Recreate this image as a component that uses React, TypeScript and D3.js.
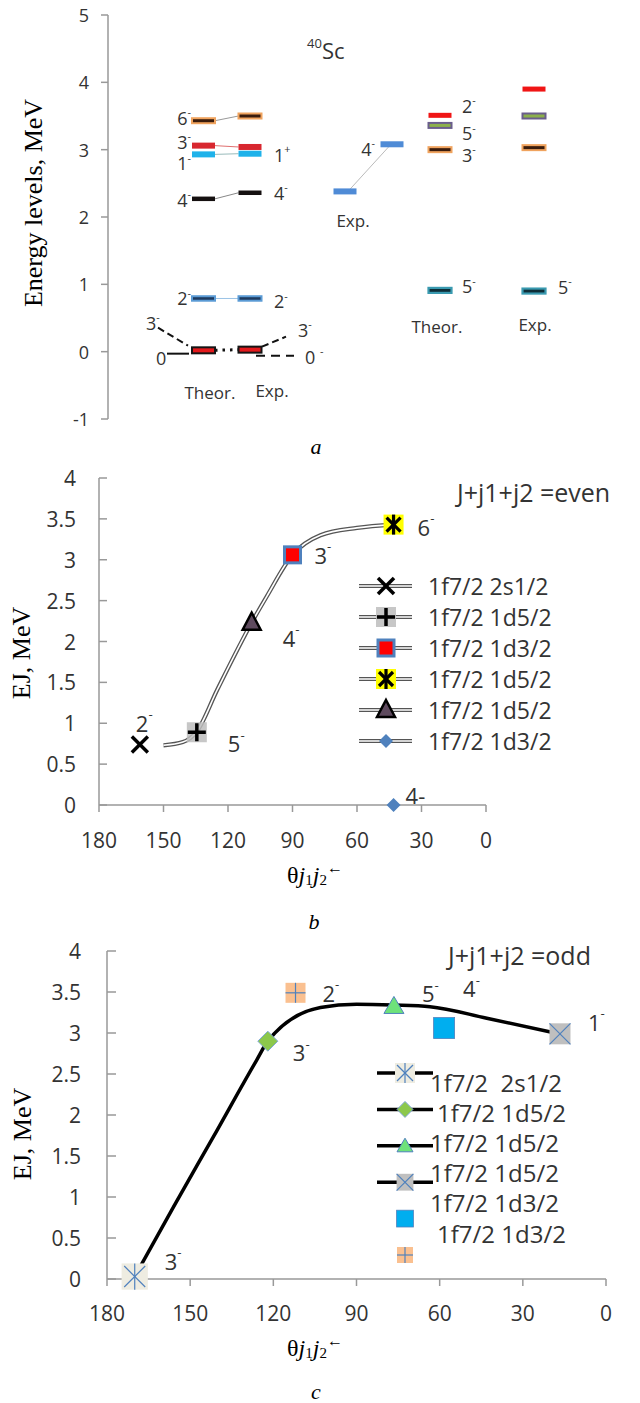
import React from 'react';
import * as d3 from 'd3';

// ---------------- Panel a data (energy levels, MeV) ----------------
const aYTicks = [-1, 0, 1, 2, 3, 4, 5];
const pairSpinBase = ['6', '3', '1', '4', '2', '0'];
const pairTheor = [3.43, 3.06, 2.93, 2.27, 0.79, 0.02];
const pairExp = [3.5, 3.04, 2.94, 2.36, 0.79, 0.03];
const pairExpSpinBase = ['', '', '1', '4', '2', '0'];
const pairExpSpinSup = ['', '', '+', '-', '-', '-'];
const exp4Levels = [2.38, 3.08];
const rightSpinBase = ['2', '5', '3', '5'];
const rightTheor = [3.51, 3.36, 3.0, 0.91];
const rightExp = [3.9, 3.5, 3.03, 0.9];

// ---------------- Panel b data ----------------
const bcXTicks = [180, 150, 120, 90, 60, 30, 0];
const bcYTicks = [0, 0.5, 1, 1.5, 2, 2.5, 3, 3.5, 4];
const bSeries = ['1f7/2 2s1/2', '1f7/2 1d5/2', '1f7/2 1d3/2', '1f7/2 1d5/2', '1f7/2 1d5/2', '1f7/2 1d3/2'];
const bTheta = [161, 134.5, 90, 43, 109, 43];
const bE = [0.74, 0.89, 3.06, 3.43, 2.23, 0.0];
const bSpin = ['2', '5', '3', '6', '4', '4'];
const bCurveTheta = [150, 141, 134.5, 125, 109, 102, 90, 77, 60, 43];
const bCurveE = [0.73, 0.77, 0.9, 1.41, 2.23, 2.55, 3.06, 3.3, 3.39, 3.43];

// ---------------- Panel c data ----------------
const cSeries = ['1f7/2  2s1/2', '1f7/2 1d5/2', '1f7/2 1d5/2', '1f7/2 1d5/2', '1f7/2 1d3/2', '1f7/2 1d3/2'];
const cTheta = [170, 122, 76.5, 16.6, 58.4, 112];
const cE = [0.03, 2.9, 3.33, 2.99, 3.06, 3.49];
const cSpin = ['3', '3', '5', '1', '4', '2'];
const cCurveTheta = [170, 156, 141.7, 126, 122, 103, 90, 76.5, 63.5, 43, 17];
const cCurveE = [0.03, 0.88, 1.73, 2.67, 2.9, 3.31, 3.35, 3.34, 3.32, 3.18, 2.99];

// ---------------- layout / style ----------------
const SANS = "'Open Sans', 'Liberation Sans', sans-serif";
const SERIF = "'Liberation Serif', 'DejaVu Serif', serif";
const AXIS = '#999';
const TXT = '#333';

const barStyles: Record<string, { fill: string; stroke?: string; sw?: number; h: number }> = {
  orange: { fill: '#3a1c0c', stroke: '#f0a35e', sw: 2, h: 5 },
  red: { fill: '#d8272f', h: 6 },
  cyan: { fill: '#1fb2ea', h: 6 },
  black: { fill: '#151010', h: 4.5 },
  blue: { fill: '#1d3b60', stroke: '#5b9bd5', sw: 2, h: 4.5 },
  redBlack: { fill: '#e3191c', stroke: '#151515', sw: 2, h: 6 },
  expBlue: { fill: '#4f8bd6', h: 6 },
  brightRed: { fill: '#f01515', h: 5 },
  purpleGreen: { fill: '#8cb04b', stroke: '#6a5e8c', sw: 2, h: 5 },
  teal: { fill: '#0e2e38', stroke: '#3a9ab0', sw: 2.2, h: 5 },
};
const pairStyle = ['orange', 'red', 'cyan', 'black', 'blue', 'redBlack'];
const pairLink = ['#999', '#e07070', '#9bb', '#888', '#9bc3e6', '#111'];
const rightStyle = ['brightRed', 'purpleGreen', 'orange', 'teal'];
const col = { t1: 203.5, e1: 250, g1: 345, g2: 392, t2: 440, e2: 534 };
const BW = 23;

function Spin({ x, y, base, sup = '-', size = 18, anchor = 'start', color = TXT }: any) {
  return (
    <text x={x} y={y} fontFamily={SANS} fontSize={size} fill={color} textAnchor={anchor} dominantBaseline="central">
      {base}
      {sup ? (
        <tspan fontSize={size * 0.6} dy={-size * 0.38}>
          {sup}
        </tspan>
      ) : null}
    </text>
  );
}

function Bar({ cx, y, style }: any) {
  const s = barStyles[style];
  return (
    <rect x={cx - BW / 2} y={y - s.h / 2} width={BW} height={s.h} fill={s.fill} stroke={s.stroke || 'none'} strokeWidth={s.sw || 0} />
  );
}

function MarkerB({ type, x, y }: any) {
  const k = `${type}`;
  switch (k) {
    case '0':
      return (
        <g stroke="#000" strokeWidth={3.5}>
          <line x1={x - 8} y1={y - 8} x2={x + 8} y2={y + 8} />
          <line x1={x - 8} y1={y + 8} x2={x + 8} y2={y - 8} />
        </g>
      );
    case '1':
      return (
        <g>
          <rect x={x - 10} y={y - 10} width={20} height={20} fill="#bdbdbd" opacity={0.85} />
          <line x1={x - 9} y1={y} x2={x + 9} y2={y} stroke="#000" strokeWidth={3.5} />
          <line x1={x} y1={y - 9} x2={x} y2={y + 9} stroke="#000" strokeWidth={3.5} />
        </g>
      );
    case '2':
      return <rect x={x - 8} y={y - 8} width={16} height={16} fill="#ff0000" stroke="#4f81bd" strokeWidth={3} />;
    case '3':
      return (
        <g>
          <rect x={x - 10} y={y - 10} width={20} height={20} fill="#ffff00" />
          <g stroke="#000" strokeWidth={3.2}>
            <line x1={x - 7} y1={y - 7} x2={x + 7} y2={y + 7} />
            <line x1={x - 7} y1={y + 7} x2={x + 7} y2={y - 7} />
            <line x1={x} y1={y - 10} x2={x} y2={y + 10} />
          </g>
        </g>
      );
    case '4':
      return <path d={`M${x},${y - 10} L${x + 9},${y + 7} L${x - 9},${y + 7} Z`} fill="#5e4a5e" stroke="#000" strokeWidth={2.5} strokeLinejoin="miter" />;
    default:
      return <path d={`M${x},${y - 7} L${x + 7},${y} L${x},${y + 7} L${x - 7},${y} Z`} fill="#4f81bd" />;
  }
}

function MarkerC({ type, x, y, s = 1 }: any) {
  const k = `${type}`;
  const h = 10 * s;
  switch (k) {
    case '0':
      return (
        <g>
          <rect x={x - h * 1.25} y={y - h * 1.25} width={h * 2.5} height={h * 2.5} fill="#eeece1" />
          <g stroke="#4f81bd" strokeWidth={1.2}>
            <line x1={x - h} y1={y - h} x2={x + h} y2={y + h} />
            <line x1={x - h} y1={y + h} x2={x + h} y2={y - h} />
            <line x1={x} y1={y - h * 1.25} x2={x} y2={y + h * 1.25} />
          </g>
        </g>
      );
    case '1':
      return <path d={`M${x},${y - h} L${x + h},${y} L${x},${y + h} L${x - h},${y} Z`} fill="#8cc84b" stroke="#7fa7d8" strokeWidth={1} />;
    case '2':
      return <path d={`M${x},${y - h * 0.95} L${x + h},${y + h * 0.75} L${x - h},${y + h * 0.75} Z`} fill="#6ee27a" stroke="#4f81bd" strokeWidth={1} />;
    case '3':
      return (
        <g>
          <rect x={x - h * 1.05} y={y - h * 1.05} width={h * 2.1} height={h * 2.1} fill="#bfbfbf" />
          <g stroke="#4f81bd" strokeWidth={1.2}>
            <line x1={x - h * 1.05} y1={y - h * 1.05} x2={x + h * 1.05} y2={y + h * 1.05} />
            <line x1={x - h * 1.05} y1={y + h * 1.05} x2={x + h * 1.05} y2={y - h * 1.05} />
          </g>
        </g>
      );
    case '4':
      return <rect x={x - h * 1.05} y={y - h * 1.05} width={h * 2.1} height={h * 2.1} fill="#00aeef" stroke="#4f81bd" strokeWidth={0.8} />;
    default:
      return (
        <g>
          <rect x={x - h} y={y - h} width={h * 2} height={h * 2} fill="#fac090" />
          <line x1={x - h} y1={y} x2={x + h} y2={y} stroke="#4f81bd" strokeWidth={1.2} />
          <line x1={x} y1={y - h} x2={x} y2={y + h} stroke="#4f81bd" strokeWidth={1.2} />
        </g>
      );
  }
}

function Theta({ x, y }: any) {
  return (
    <text x={x} y={y} fontFamily={SERIF} fontSize={24} fill="#000" textAnchor="middle" dominantBaseline="central">
      θ<tspan fontStyle="italic">j</tspan>
      <tspan fontSize={15} dy={5}>1</tspan>
      <tspan fontStyle="italic" dy={-5}>j</tspan>
      <tspan fontSize={15} dy={5}>2</tspan>
      <tspan fontSize={16} dy={-13}>←</tspan>
    </text>
  );
}

export default function App() {
  const yA = d3.scaleLinear().domain([-1, 5]).range([419, 15]);
  const xB = d3.scaleLinear().domain([180, 0]).range([99, 486]);
  const yB = d3.scaleLinear().domain([0, 4]).range([805, 478]);
  const xC = d3.scaleLinear().domain([180, 0]).range([107, 606]);
  const yC = d3.scaleLinear().domain([0, 4]).range([1279, 951]);

  const lineB = d3.line<number>().x((d, i) => xB(bCurveTheta[i])).y((d) => yB(d)).curve(d3.curveMonotoneX);
  const lineC = d3.line<number>().x((d, i) => xC(cCurveTheta[i])).y((d) => yC(d)).curve(d3.curveMonotoneX);

  const bLabelDx = [-4, 31, 22, 24, 31, 12];
  const bLabelDy = [-22, 11, 0, 2, 15, -10];
  const cLabelDx = [30, 25, 28, 28, 19, 27];
  const cLabelDy = [-16, 11, -13, -12, -40, 0];
  const bLegY = (i: number) => 586 + i * 31;
  const cLegMarkY = (i: number) => 1073 + i * 36.4;
  const cLegTextY = (i: number) => 1082 + i * 30.2;
  const cLegTextX = [430, 437, 430, 430, 430, 437];

  const z = yA(0);

  return (
    <svg width={640} height={1403} viewBox="0 0 640 1403" style={{ position: 'absolute', left: 0, top: 0, background: '#fff' }}>
      <rect x={0} y={0} width={640} height={1403} fill="#fff" />

      {/* ================= Panel a ================= */}
      <line x1={108} x2={108} y1={yA(5)} y2={yA(-1)} stroke={AXIS} strokeWidth={1.5} />
      {aYTicks.map((t) => (
        <g key={'at' + t}>
          <line x1={101} x2={108} y1={yA(t)} y2={yA(t)} stroke={AXIS} strokeWidth={1.5} />
          <text x={89} y={yA(t)} fontFamily={SANS} fontSize={18} fill={TXT} textAnchor="end" dominantBaseline="central">
            {t}
          </text>
        </g>
      ))}
      <text transform={`translate(33,203) rotate(-90)`} fontFamily={SERIF} fontSize={26} textAnchor="middle" dominantBaseline="central" fill="#000">
        Energy levels, MeV
      </text>
      <text x={307} y={50} fontFamily={SANS} fill={TXT} dominantBaseline="central">
        <tspan fontSize={13} dy={-7}>40</tspan>
        <tspan fontSize={22} dy={7}>Sc</tspan>
      </text>

      {pairTheor.map((e, i) => (
        <line
          key={'pl' + i}
          x1={col.t1 + BW / 2}
          x2={col.e1 - BW / 2}
          y1={yA(e)}
          y2={yA(pairExp[i])}
          stroke={pairLink[i]}
          strokeWidth={i === 5 ? 3 : 1}
          strokeDasharray={i === 5 ? '2.5 5' : undefined}
        />
      ))}
      {pairTheor.map((e, i) => (
        <Bar key={'pt' + i} cx={col.t1} y={yA(e)} style={pairStyle[i]} />
      ))}
      {pairExp.map((e, i) => (
        <Bar key={'pe' + i} cx={col.e1} y={yA(e)} style={pairStyle[i]} />
      ))}
      {[0, 1, 2, 3, 4].map((i) => (
        <Spin key={'plt' + i} x={191} y={yA(pairTheor[i]) + [-3, -4, 9, 1, 0][i]} base={pairSpinBase[i]} anchor="end" />
      ))}
      {[2, 3, 4].map((i) => (
        <Spin key={'ple' + i} x={274} y={yA(pairExp[i]) + [0, 0, 1, 0, 3][i]} base={pairExpSpinBase[i]} sup={pairExpSpinSup[i]} />
      ))}
      <line x1={158} y1={z - 24} x2={188} y2={z - 6} stroke="#111" strokeWidth={2} strokeDasharray="7 4" />
      <line x1={167} y1={z + 2} x2={189} y2={z + 2} stroke="#111" strokeWidth={2} />
      <line x1={262} y1={z - 5} x2={286} y2={z - 15} stroke="#111" strokeWidth={2} strokeDasharray="7 4" />
      <line x1={256} y1={z + 4} x2={294} y2={z + 4} stroke="#111" strokeWidth={2} strokeDasharray="9 6" />
      <Spin x={146} y={z - 29} base="3" />
      <Spin x={156} y={z + 6} base="0" sup="" />
      <Spin x={298} y={z - 22} base="3" />
      <Spin x={305} y={z + 5} base="0 " />
      <text x={210} y={392} fontFamily={SANS} fontSize={17} fill={TXT} textAnchor="middle" dominantBaseline="central">
        Theor.
      </text>
      <text x={272} y={390} fontFamily={SANS} fontSize={17} fill={TXT} textAnchor="middle" dominantBaseline="central">
        Exp.
      </text>

      <line x1={col.g1 + 3} y1={yA(exp4Levels[0])} x2={col.g2 - 1} y2={yA(exp4Levels[1])} stroke="#bbb" strokeWidth={1} />
      <Bar cx={col.g1} y={yA(exp4Levels[0])} style="expBlue" />
      <Bar cx={col.g2} y={yA(exp4Levels[1])} style="expBlue" />
      <Spin x={375} y={yA(exp4Levels[1]) + 5} base="4" anchor="end" />
      <text x={353} y={220} fontFamily={SANS} fontSize={17} fill={TXT} textAnchor="middle" dominantBaseline="central">
        Exp.
      </text>

      {rightTheor.map((e, i) => (
        <Bar key={'rt' + i} cx={col.t2} y={yA(e)} style={rightStyle[i]} />
      ))}
      {rightExp.map((e, i) => (
        <Bar key={'re' + i} cx={col.e2} y={yA(e)} style={rightStyle[i]} />
      ))}
      {rightTheor.map((e, i) => (
        <Spin key={'rl' + i} x={462} y={yA(e) + [-9, 8, 5, -4][i]} base={rightSpinBase[i]} />
      ))}
      <Spin x={558} y={yA(rightExp[3]) - 4} base={rightSpinBase[3]} />
      <text x={437} y={326} fontFamily={SANS} fontSize={17} fill={TXT} textAnchor="middle" dominantBaseline="central">
        Theor.
      </text>
      <text x={535} y={324} fontFamily={SANS} fontSize={17} fill={TXT} textAnchor="middle" dominantBaseline="central">
        Exp.
      </text>
      <text x={316} y={446} fontFamily={SERIF} fontStyle="italic" fontSize={22} textAnchor="middle" dominantBaseline="central">
        a
      </text>

      {/* ================= Panel b ================= */}
      <line x1={xB(180)} x2={xB(180)} y1={yB(4)} y2={yB(0)} stroke={AXIS} strokeWidth={1.5} />
      <line x1={xB(180)} x2={xB(0)} y1={yB(0)} y2={yB(0)} stroke={AXIS} strokeWidth={1.5} />
      {bcYTicks.map((t) => (
        <g key={'by' + t}>
          <line x1={xB(180)} x2={xB(180) + 8} y1={yB(t)} y2={yB(t)} stroke={AXIS} strokeWidth={1.5} />
          <text x={76} y={yB(t)} fontFamily={SANS} fontSize={21} fill={TXT} textAnchor="end" dominantBaseline="central">
            {t}
          </text>
        </g>
      ))}
      {bcXTicks.map((t) => (
        <g key={'bx' + t}>
          <line x1={xB(t)} x2={xB(t)} y1={yB(0)} y2={yB(0) + 7} stroke={AXIS} strokeWidth={1.5} />
          <text x={xB(t)} y={yB(0) + 35} fontFamily={SANS} fontSize={21} fill={TXT} textAnchor="middle" dominantBaseline="central">
            {t}
          </text>
        </g>
      ))}
      <text transform={`translate(21,653) rotate(-90)`} fontFamily={SERIF} fontSize={26} textAnchor="middle" dominantBaseline="central">
        EJ, MeV
      </text>
      <path d={lineB(bCurveE) || ''} fill="none" stroke="#555" strokeWidth={4.2} />
      <path d={lineB(bCurveE) || ''} fill="none" stroke="#fff" strokeWidth={1.6} />
      {bE.map((e, i) => (
        <MarkerB key={'bm' + i} type={i} x={xB(bTheta[i])} y={yB(e)} />
      ))}
      {bE.map((e, i) => (
        <Spin key={'bl' + i} x={xB(bTheta[i]) + bLabelDx[i]} y={yB(e) + bLabelDy[i]} base={i === 5 ? bSpin[i] + '-' : bSpin[i]} sup={i === 5 ? '' : '-'} size={22} />
      ))}
      <text x={457} y={492} fontFamily={SANS} fontSize={25} fill={TXT} dominantBaseline="central">
        J+j1+j2 =even
      </text>
      {bSeries.map((s, i) => (
        <g key={'bleg' + i}>
          <line x1={359} x2={412} y1={bLegY(i)} y2={bLegY(i)} stroke="#555" strokeWidth={4.2} />
          <line x1={359} x2={412} y1={bLegY(i)} y2={bLegY(i)} stroke="#fff" strokeWidth={1.6} />
          <MarkerB type={i} x={386} y={bLegY(i)} />
          <text x={428} y={bLegY(i)} fontFamily={SANS} fontSize={23} fill={TXT} dominantBaseline="central">
            {s}
          </text>
        </g>
      ))}
      <Theta x={315} y={875} />
      <text x={314} y={921} fontFamily={SERIF} fontStyle="italic" fontSize={22} textAnchor="middle" dominantBaseline="central">
        b
      </text>

      {/* ================= Panel c ================= */}
      <line x1={xC(180)} x2={xC(180)} y1={yC(4)} y2={yC(0)} stroke={AXIS} strokeWidth={1.5} />
      <line x1={xC(180)} x2={xC(0)} y1={yC(0)} y2={yC(0)} stroke={AXIS} strokeWidth={1.5} />
      {bcYTicks.map((t) => (
        <g key={'cy' + t}>
          <line x1={xC(180)} x2={xC(180) + 9} y1={yC(t)} y2={yC(t)} stroke={AXIS} strokeWidth={1.5} />
          <text x={81} y={yC(t)} fontFamily={SANS} fontSize={21} fill={TXT} textAnchor="end" dominantBaseline="central">
            {t}
          </text>
        </g>
      ))}
      {bcXTicks.map((t) => (
        <g key={'cx' + t}>
          <line x1={xC(t)} x2={xC(t)} y1={yC(0)} y2={yC(0) + 7} stroke={AXIS} strokeWidth={1.5} />
          <text x={xC(t)} y={yC(0) + 34} fontFamily={SANS} fontSize={21} fill={TXT} textAnchor="middle" dominantBaseline="central">
            {t}
          </text>
        </g>
      ))}
      <text transform={`translate(22,1134) rotate(-90)`} fontFamily={SERIF} fontSize={26} textAnchor="middle" dominantBaseline="central">
        EJ, MeV
      </text>
      <path d={lineC(cCurveE) || ''} fill="none" stroke="#000" strokeWidth={3.5} />
      {cE.map((e, i) => (
        <MarkerC key={'cm' + i} type={i} x={xC(cTheta[i])} y={yC(e)} s={i === 0 ? 1.05 : 1} />
      ))}
      {cE.map((e, i) => (
        <Spin key={'cl' + i} x={xC(cTheta[i]) + cLabelDx[i]} y={yC(e) + cLabelDy[i]} base={cSpin[i]} size={22} />
      ))}
      <text x={448} y={955} fontFamily={SANS} fontSize={25} fill={TXT} dominantBaseline="central">
        J+j1+j2 =odd
      </text>
      {cSeries.map((s, i) => (
        <g key={'cleg' + i}>
          {i < 4 ? <line x1={377} x2={433} y1={cLegMarkY(i)} y2={cLegMarkY(i)} stroke="#000" strokeWidth={3.5} /> : null}
          <MarkerC type={i} x={405} y={cLegMarkY(i)} s={0.8} />
          <text x={cLegTextX[i]} y={cLegTextY(i)} fontFamily={SANS} fontSize={24} fill={TXT} dominantBaseline="central" style={{ whiteSpace: 'pre' }}>
            {s}
          </text>
        </g>
      ))}
      <Theta x={315} y={1348} />
      <text x={316} y={1391} fontFamily={SERIF} fontStyle="italic" fontSize={22} textAnchor="middle" dominantBaseline="central">
        c
      </text>
    </svg>
  );
}
